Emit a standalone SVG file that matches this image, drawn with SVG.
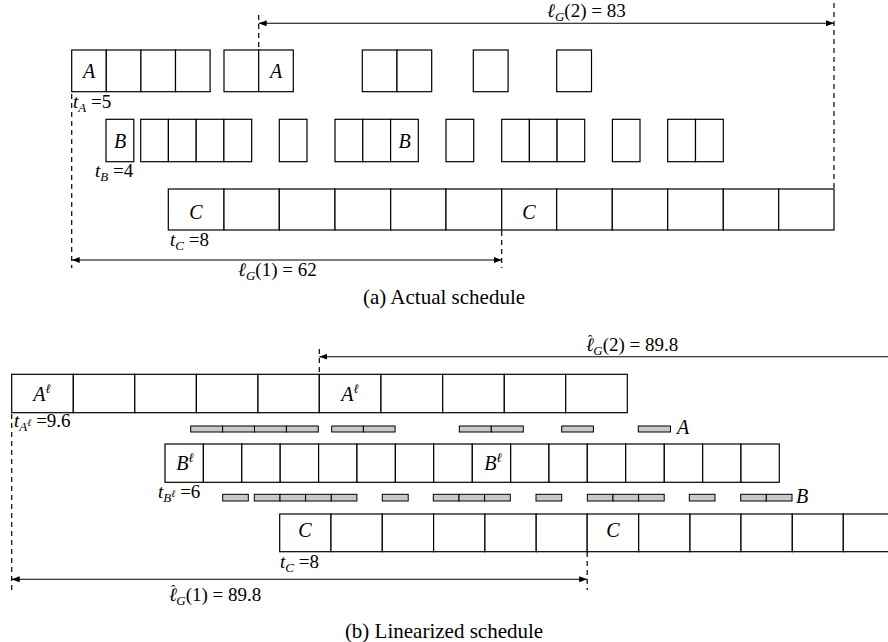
<svg xmlns="http://www.w3.org/2000/svg" width="888" height="642" viewBox="0 0 888 642">
<style>
.c{fill:#fff;stroke:#000;stroke-width:1.2}
.g{fill:#c8c8c8;stroke:#000;stroke-width:1}
.d{stroke:#000;stroke-width:1.2;stroke-dasharray:5 4;fill:none}
.a{stroke:#000;stroke-width:1.1;fill:none}
text{font-family:"Liberation Serif","DejaVu Serif",serif;fill:#000}
.v{font-style:italic;font-size:20px}
.t{font-size:19px}
.i{font-style:italic}
.s{font-style:italic;font-size:13px}
.u{font-style:italic;font-size:10px}
.h{font-size:13px}
.cap{font-size:21px}
</style>
<defs>
<marker id="ae" viewBox="0 0 8 6" refX="8" refY="3" markerWidth="8" markerHeight="6" markerUnits="userSpaceOnUse" orient="auto"><path d="M0,0 L8,3 L0,6 Z" fill="#000"/></marker>
<marker id="as" viewBox="0 0 8 6" refX="0" refY="3" markerWidth="8" markerHeight="6" markerUnits="userSpaceOnUse" orient="auto"><path d="M8,0 L0,3 L8,6 Z" fill="#000"/></marker>
</defs>

<!-- (a) Actual schedule -->
<g id="rowA-actual">
<rect class="c" x="71.7" y="50" width="34.6" height="41.7"/>
<rect class="c" x="106.3" y="50" width="34.6" height="41.7"/>
<rect class="c" x="140.9" y="50" width="34.6" height="41.7"/>
<rect class="c" x="175.5" y="50" width="34.6" height="41.7"/>
<rect class="c" x="224" y="50" width="34.7" height="41.7"/>
<rect class="c" x="258.7" y="50" width="34.6" height="41.7"/>
<rect class="c" x="362.3" y="50" width="34.7" height="41.7"/>
<rect class="c" x="397" y="50" width="34.7" height="41.7"/>
<rect class="c" x="473.3" y="50" width="34.8" height="41.7"/>
<rect class="c" x="556.7" y="50" width="34.8" height="41.7"/>
<text class="v" x="89" y="78" text-anchor="middle">A</text>
<text class="v" x="276" y="78" text-anchor="middle">A</text>
<text class="t" x="73" y="108"><tspan class="i">t</tspan><tspan class="s" dy="4">A</tspan><tspan dy="-4"> =5</tspan></text>
</g>

<g id="rowB-actual">
<rect class="c" x="106" y="119.3" width="27.8" height="42.4"/>
<rect class="c" x="140.7" y="119.3" width="27.7" height="42.4"/>
<rect class="c" x="168.4" y="119.3" width="27.8" height="42.4"/>
<rect class="c" x="196.2" y="119.3" width="27.7" height="42.4"/>
<rect class="c" x="223.9" y="119.3" width="27.8" height="42.4"/>
<rect class="c" x="279.3" y="119.3" width="27.7" height="42.4"/>
<rect class="c" x="335" y="119.3" width="27.8" height="42.4"/>
<rect class="c" x="362.8" y="119.3" width="27.8" height="42.4"/>
<rect class="c" x="390.6" y="119.3" width="27.7" height="42.4"/>
<rect class="c" x="446" y="119.3" width="27.7" height="42.4"/>
<rect class="c" x="501.7" y="119.3" width="27.7" height="42.4"/>
<rect class="c" x="529.4" y="119.3" width="27.7" height="42.4"/>
<rect class="c" x="557.1" y="119.3" width="27.6" height="42.4"/>
<rect class="c" x="612.4" y="119.3" width="27.6" height="42.4"/>
<rect class="c" x="667.7" y="119.3" width="27.8" height="42.4"/>
<rect class="c" x="695.5" y="119.3" width="27.8" height="42.4"/>
<text class="v" x="120" y="148" text-anchor="middle">B</text>
<text class="v" x="404.5" y="148" text-anchor="middle">B</text>
<text class="t" x="95" y="177"><tspan class="i">t</tspan><tspan class="s" dy="4">B</tspan><tspan dy="-4"> =4</tspan></text>
</g>

<g id="rowC-actual">
<rect class="c" x="168.3" y="189" width="55.7" height="41"/>
<rect class="c" x="224" y="189" width="55.3" height="41"/>
<rect class="c" x="279.3" y="189" width="55.7" height="41"/>
<rect class="c" x="335" y="189" width="55.7" height="41"/>
<rect class="c" x="390.7" y="189" width="55.3" height="41"/>
<rect class="c" x="446" y="189" width="55.7" height="41"/>
<rect class="c" x="501.7" y="189" width="55" height="41"/>
<rect class="c" x="556.7" y="189" width="55.6" height="41"/>
<rect class="c" x="612.3" y="189" width="55.4" height="41"/>
<rect class="c" x="667.7" y="189" width="55.6" height="41"/>
<rect class="c" x="723.3" y="189" width="55.4" height="41"/>
<rect class="c" x="778.7" y="189" width="55.3" height="41"/>
<text class="v" x="196" y="219" text-anchor="middle">C</text>
<text class="v" x="529" y="219" text-anchor="middle">C</text>
<text class="t" x="170" y="246"><tspan class="i">t</tspan><tspan class="s" dy="4">C</tspan><tspan dy="-4"> =8</tspan></text>
</g>

<!-- (b) Linearized schedule -->
<g id="rowA-lin">
<rect class="c" x="11.7" y="374.3" width="61.6" height="38.4"/>
<rect class="c" x="73.3" y="374.3" width="61.5" height="38.4"/>
<rect class="c" x="134.8" y="374.3" width="61.6" height="38.4"/>
<rect class="c" x="196.4" y="374.3" width="61.6" height="38.4"/>
<rect class="c" x="258" y="374.3" width="61.3" height="38.4"/>
<rect class="c" x="319.3" y="374.3" width="61.7" height="38.4"/>
<rect class="c" x="381" y="374.3" width="61.7" height="38.4"/>
<rect class="c" x="442.7" y="374.3" width="61.6" height="38.4"/>
<rect class="c" x="504.3" y="374.3" width="61.4" height="38.4"/>
<rect class="c" x="565.7" y="374.3" width="61.6" height="38.4"/>
<text class="v" x="42" y="401" text-anchor="middle">A<tspan font-size="13px" dy="-8">ℓ</tspan></text>
<text class="v" x="350" y="401" text-anchor="middle">A<tspan font-size="13px" dy="-8">ℓ</tspan></text>
<text class="t" x="14" y="427"><tspan class="i">t</tspan><tspan class="s" dy="4">A</tspan><tspan class="u" dy="-5">ℓ</tspan><tspan dy="1"> =9.6</tspan></text>
</g>

<g id="barsA">
<rect class="g" x="190.7" y="426" width="31.9" height="6"/>
<rect class="g" x="222.6" y="426" width="31.9" height="6"/>
<rect class="g" x="254.5" y="426" width="31.9" height="6"/>
<rect class="g" x="286.4" y="426" width="31.9" height="6"/>
<rect class="g" x="331.7" y="426" width="31.7" height="6"/>
<rect class="g" x="363.4" y="426" width="31.7" height="6"/>
<rect class="g" x="459.3" y="426" width="32" height="6"/>
<rect class="g" x="491.3" y="426" width="32" height="6"/>
<rect class="g" x="561.7" y="426" width="31.7" height="6"/>
<rect class="g" x="638.3" y="426" width="32.2" height="6"/>
<text class="v" x="677" y="434">A</text>
</g>

<g id="rowB-lin">
<rect class="c" x="165" y="444" width="38.4" height="38.3"/>
<rect class="c" x="203.4" y="444" width="38.4" height="38.3"/>
<rect class="c" x="241.8" y="444" width="38.4" height="38.3"/>
<rect class="c" x="280.2" y="444" width="38.4" height="38.3"/>
<rect class="c" x="318.6" y="444" width="38.4" height="38.3"/>
<rect class="c" x="357" y="444" width="38.4" height="38.3"/>
<rect class="c" x="395.4" y="444" width="38.3" height="38.3"/>
<rect class="c" x="433.7" y="444" width="38.6" height="38.3"/>
<rect class="c" x="472.3" y="444" width="38.4" height="38.3"/>
<rect class="c" x="510.7" y="444" width="38.3" height="38.3"/>
<rect class="c" x="549" y="444" width="38.3" height="38.3"/>
<rect class="c" x="587.3" y="444" width="38.4" height="38.3"/>
<rect class="c" x="625.7" y="444" width="38.6" height="38.3"/>
<rect class="c" x="664.3" y="444" width="38.4" height="38.3"/>
<rect class="c" x="702.7" y="444" width="38.3" height="38.3"/>
<rect class="c" x="741" y="444" width="38.3" height="38.3"/>
<text class="v" x="185" y="470" text-anchor="middle">B<tspan font-size="13px" dy="-8">ℓ</tspan></text>
<text class="v" x="493" y="470" text-anchor="middle">B<tspan font-size="13px" dy="-8">ℓ</tspan></text>
<text class="t" x="158" y="498"><tspan class="i">t</tspan><tspan class="s" dy="4">B</tspan><tspan class="u" dy="-5">ℓ</tspan><tspan dy="1"> =6</tspan></text>
</g>

<g id="barsB">
<rect class="g" x="222.7" y="494.3" width="25.6" height="6.7"/>
<rect class="g" x="254.3" y="494.3" width="25.7" height="6.7"/>
<rect class="g" x="280" y="494.3" width="25.6" height="6.7"/>
<rect class="g" x="305.6" y="494.3" width="25.7" height="6.7"/>
<rect class="g" x="331.3" y="494.3" width="25.6" height="6.7"/>
<rect class="g" x="382.3" y="494.3" width="25.9" height="6.7"/>
<rect class="g" x="433.3" y="494.3" width="25.7" height="6.7"/>
<rect class="g" x="459" y="494.3" width="25.6" height="6.7"/>
<rect class="g" x="484.6" y="494.3" width="25.7" height="6.7"/>
<rect class="g" x="536" y="494.3" width="25.7" height="6.7"/>
<rect class="g" x="587.3" y="494.3" width="25.7" height="6.7"/>
<rect class="g" x="613" y="494.3" width="25.6" height="6.7"/>
<rect class="g" x="638.6" y="494.3" width="25.6" height="6.7"/>
<rect class="g" x="689.3" y="494.3" width="25.7" height="6.7"/>
<rect class="g" x="740.7" y="494.3" width="25.6" height="6.7"/>
<rect class="g" x="766.3" y="494.3" width="25.7" height="6.7"/>
<text class="v" x="796" y="503">B</text>
</g>

<g id="rowC-lin">
<rect class="c" x="279.7" y="514" width="51.3" height="37.7"/>
<rect class="c" x="331" y="514" width="51.3" height="37.7"/>
<rect class="c" x="382.3" y="514" width="51.3" height="37.7"/>
<rect class="c" x="433.6" y="514" width="51.3" height="37.7"/>
<rect class="c" x="484.9" y="514" width="51.3" height="37.7"/>
<rect class="c" x="536.2" y="514" width="51" height="37.7"/>
<rect class="c" x="587.2" y="514" width="51.5" height="37.7"/>
<rect class="c" x="638.7" y="514" width="51.3" height="37.7"/>
<rect class="c" x="690" y="514" width="51" height="37.7"/>
<rect class="c" x="741" y="514" width="51.3" height="37.7"/>
<rect class="c" x="792.3" y="514" width="51" height="37.7"/>
<rect class="c" x="843.3" y="514" width="51.3" height="37.7"/>
<text class="v" x="305" y="537" text-anchor="middle">C</text>
<text class="v" x="613" y="537" text-anchor="middle">C</text>
<text class="t" x="280" y="568"><tspan class="i">t</tspan><tspan class="s" dy="4">C</tspan><tspan dy="-4"> =8</tspan></text>
</g>

<g id="connectors">
<line class="d" x1="258.7" y1="15" x2="258.7" y2="50"/>
<line class="d" x1="834" y1="3" x2="834" y2="189"/>
<line class="d" x1="71.7" y1="94" x2="71.7" y2="268"/>
<line class="d" x1="501.7" y1="231" x2="501.7" y2="268"/>
<line class="a" x1="258.7" y1="23.3" x2="834" y2="23.3" marker-start="url(#as)" marker-end="url(#ae)"/>
<line class="a" x1="71.7" y1="260" x2="501.7" y2="260" marker-start="url(#as)" marker-end="url(#ae)"/>
<line class="d" x1="319.3" y1="349" x2="319.3" y2="374"/>
<line class="d" x1="11.7" y1="414" x2="11.7" y2="591"/>
<line class="d" x1="587.2" y1="552" x2="587.2" y2="590"/>
<line class="a" x1="319.3" y1="356.7" x2="892" y2="356.7" marker-start="url(#as)"/>
<line class="a" x1="11.7" y1="579.3" x2="587.2" y2="579.3" marker-start="url(#as)" marker-end="url(#ae)"/>
</g>

<g id="labels">
<text class="t" x="547" y="17"><tspan class="i">ℓ</tspan><tspan class="s" dy="4">G</tspan><tspan dy="-4">(2) = 83</tspan></text>
<text class="t" x="238" y="276"><tspan class="i">ℓ</tspan><tspan class="s" dy="4">G</tspan><tspan dy="-4">(1) = 62</tspan></text>
<text class="t" x="586" y="351"><tspan class="i">ℓ</tspan><tspan class="h" dx="-6" dy="-7">ˆ</tspan><tspan class="s" dx="1" dy="11">G</tspan><tspan dy="-4">(2) = 89.8</tspan></text>
<text class="t" x="169" y="601"><tspan class="i">ℓ</tspan><tspan class="h" dx="-6" dy="-7">ˆ</tspan><tspan class="s" dx="1" dy="11">G</tspan><tspan dy="-4">(1) = 89.8</tspan></text>
<text class="cap" x="444" y="304" text-anchor="middle">(a) Actual schedule</text>
<text class="cap" x="444" y="638" text-anchor="middle">(b) Linearized schedule</text>
</g>
</svg>
